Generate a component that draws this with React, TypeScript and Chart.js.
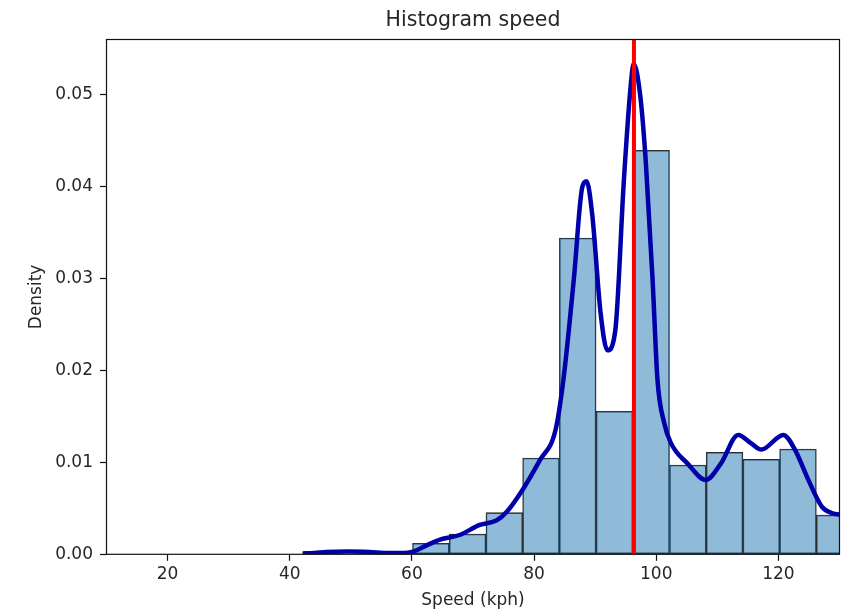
import { useEffect, useRef } from "react";
import { Chart, registerables } from "chart.js";

Chart.register(...registerables);

// ---- data ----
const binEdges = [60.1, 66.11, 72.12, 78.13, 84.14, 90.15, 96.16, 102.17, 108.18, 114.19, 120.2, 126.21, 132.22];
const binDensity = [0.0012, 0.0022, 0.00453, 0.01048, 0.03443, 0.01557, 0.04398, 0.00972, 0.0111, 0.01034, 0.01146, 0.00428];

const kdeX = [42.1, 44, 46, 49.5, 53, 56, 58.5, 60, 62.5, 64.6, 67.8, 71.1, 73.9, 75.5, 78.1, 81.0, 83.5, 84.8, 86.5, 87.9, 88.6, 89.5, 90.9, 92.0, 93.3, 94.7, 95.8, 96.3, 97.4, 98.3, 99.4, 100.2, 101.3, 102.4, 105.1, 108.1, 110.6, 113.4, 115.5, 117.2, 120.8, 122.7, 124.9, 127.1, 128.7, 130.2, 132.2];
const kdeY = [0.0001, 0.00015, 0.00025, 0.0003, 0.00025, 0.00015, 0.00015, 0.00025, 0.001, 0.0016, 0.0021, 0.0032, 0.0037, 0.0046, 0.007, 0.0103, 0.0135, 0.019, 0.0299, 0.04, 0.0406, 0.0371, 0.0262, 0.0222, 0.0244, 0.0407, 0.0509, 0.0534, 0.0498, 0.0426, 0.0299, 0.019, 0.0143, 0.0121, 0.0099, 0.0081, 0.0099, 0.013, 0.0121, 0.0114, 0.013, 0.0114, 0.0081, 0.0052, 0.0045, 0.0043, 0.0042];

const meanSpeed = 96.35;

const xTicks = [20, 40, 60, 80, 100, 120];
const yTicks = [0, 0.01, 0.02, 0.03, 0.04, 0.05];
const xMin = 10;
const xMax = 130;
const yMax = 0.05604;

const titleText = "Histogram speed";
const xLabel = "Speed (kph)";
const yLabel = "Density";

const FONT = "'DejaVu Sans', sans-serif";
const TEXT = "#262626";

const framePlugin = {
  id: "frame",
  afterDatasetsDraw(chart: any) {
    const { ctx, chartArea } = chart;
    ctx.save();
    ctx.strokeStyle = "#111";
    ctx.lineWidth = 1.2;
    ctx.strokeRect(chartArea.left, chartArea.top, chartArea.right - chartArea.left, chartArea.bottom - chartArea.top);
    ctx.restore();
  },
};

export default function App() {
  const ref = useRef<HTMLCanvasElement | null>(null);

  useEffect(() => {
    if (!ref.current) return;
    const bars = binDensity.map((d, i) => ({ x: (binEdges[i] + binEdges[i + 1]) / 2, y: d }));
    const kde = kdeX.map((x, i) => ({ x, y: kdeY[i] }));
    const meanLine = [
      { x: meanSpeed, y: 0 },
      { x: meanSpeed, y: yMax },
    ];

    const chart = new Chart(ref.current, {
      type: "bar",
      data: {
        datasets: [
          {
            type: "line",
            data: meanLine,
            borderColor: "#ff0000",
            borderWidth: 4,
            pointRadius: 0,
            order: 0,
            clip: 0,
          } as any,
          {
            type: "line",
            data: kde,
            borderColor: "#0000aa",
            borderWidth: 4.5,
            pointRadius: 0,
            cubicInterpolationMode: "monotone",
            order: 1,
            clip: 0,
          } as any,
          {
            type: "bar",
            data: bars,
            backgroundColor: "rgba(31,119,180,0.5)",
            borderColor: "#2b2b2b",
            borderWidth: 0.9,
            borderSkipped: false,
            barPercentage: 1,
            categoryPercentage: 1,
            order: 2,
            clip: 0,
          } as any,
        ],
      },
      options: {
        animation: false,
        responsive: false,
        devicePixelRatio: 1,
        layout: { padding: { left: 0, right: 3.5, top: 0, bottom: 0 } },
        plugins: {
          legend: { display: false },
          tooltip: { enabled: false },
          title: {
            display: true,
            text: titleText,
            fullSize: false,
            color: TEXT,
            font: { family: FONT, size: 20.5, weight: "normal" },
            padding: { top: 8.5, bottom: 6.4 },
          },
        },
        scales: {
          x: {
            type: "linear",
            min: xMin,
            max: xMax,
            offset: false,
            border: { display: false },
            grid: { display: true, offset: false, drawOnChartArea: false, drawTicks: true, tickLength: 6.5, tickColor: "#111", tickWidth: 1.2 },
            ticks: {
              color: TEXT,
              font: { family: FONT, size: 17 },
              padding: 4,
              maxRotation: 0,
              callback: (v: any) => String(v),
            },
            afterBuildTicks: (s: any) => {
              s.ticks = xTicks.map((value) => ({ value }));
            },
            afterFit: (s: any) => {
              s.height = 57.7;
            },
            title: {
              display: true,
              text: xLabel,
              color: TEXT,
              font: { family: FONT, size: 17 },
              padding: { top: 0, bottom: 1.3 },
            },
          },
          y: {
            type: "linear",
            min: 0,
            max: yMax,
            border: { display: false },
            grid: { display: true, offset: false, drawOnChartArea: false, drawTicks: true, tickLength: 6.5, tickColor: "#111", tickWidth: 1.2 },
            ticks: {
              color: TEXT,
              font: { family: FONT, size: 17 },
              padding: 7,
              callback: (v: any) => Number(v).toFixed(2),
            },
            afterBuildTicks: (s: any) => {
              s.ticks = yTicks.map((value) => ({ value }));
            },
            afterFit: (s: any) => {
              s.width = 106.5;
            },
            title: {
              display: true,
              text: yLabel,
              color: TEXT,
              font: { family: FONT, size: 17 },
              padding: { top: 26.3, bottom: 0 },
            },
          },
        },
      },
      plugins: [framePlugin],
    });
    return () => chart.destroy();
  }, []);

  return (
    <div style={{ position: "fixed", left: 0, top: 0, width: 843, height: 612, background: "#fff" }}>
      <canvas ref={ref} width={843} height={612} style={{ display: "block" }} />
    </div>
  );
}
